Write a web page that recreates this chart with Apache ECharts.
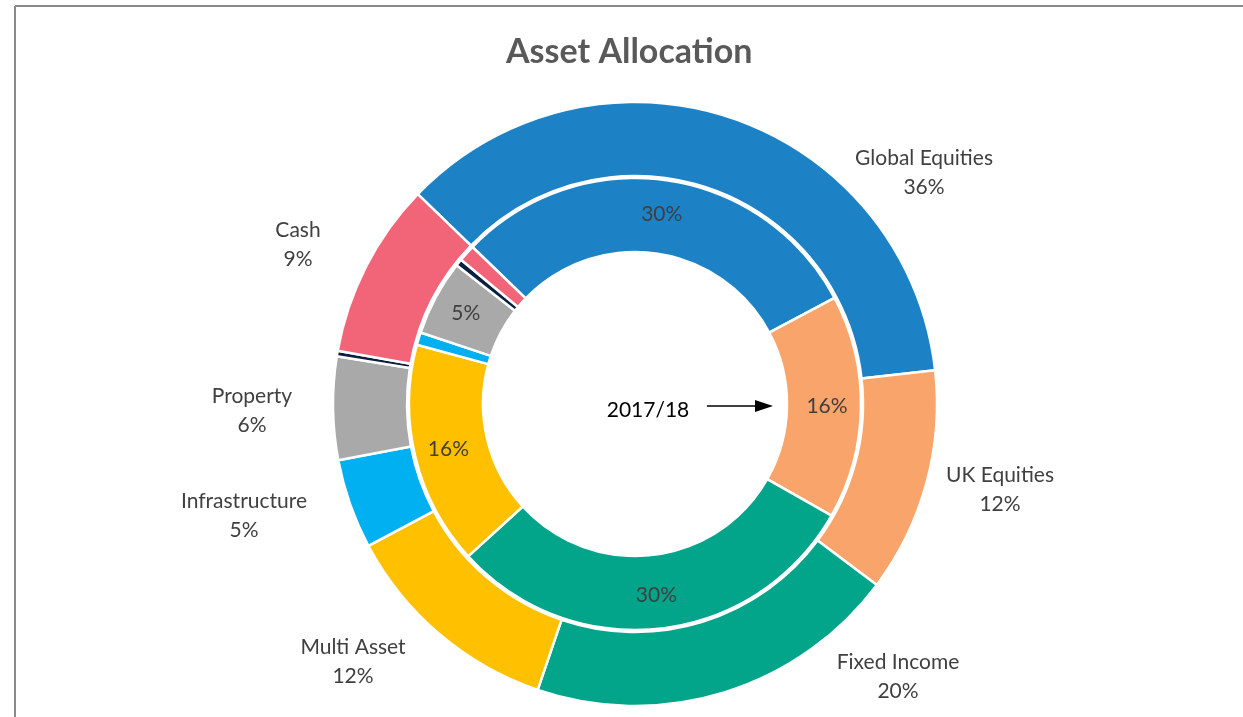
<!DOCTYPE html>
<html>
<head>
<meta charset="utf-8">
<title>Asset Allocation</title>
<script src="https://cdn.jsdelivr.net/npm/echarts@6/dist/echarts.min.js"></script>
<style>
  html, body { margin: 0; padding: 0; background: #fff; }
  #chart { width: 1243px; height: 717px; }
</style>
</head>
<body>
<div id="chart"></div>
<script>
  // asset classes, clockwise from the top-left
  const categories = ['Global Equities', 'UK Equities', 'Fixed Income', 'Multi Asset', 'Infrastructure', 'Property', 'Other', 'Cash'];
  // outer ring: target allocation (%)
  const outerValues = [36, 12, 20, 12, 4.8, 5.5, 0.3, 9.4];
  // inner ring: 2017/18 allocation (%)
  const innerValues = [30, 16, 30, 16, 0.9, 5.4, 0.5, 1.2];
  const colors = ['#1c82c5', '#f9a46a', '#02a48a', '#ffc000', '#00b0f0', '#a9a9a9', '#0b1f41', '#f26478'];
  const periodLabel = '2017/18';

  // where Excel put the outer labels (label centres)
  const outerLabelPos = [[924, 173], [1000, 490], [898, 677], [353, 662], [244, 516], [252, 411], null, [298, 245]];

  const chart = echarts.init(document.getElementById('chart'));
  const font = 'Lato, "Open Sans", sans-serif';

  const outerData = categories.map((name, i) => ({
    name: name,
    value: outerValues[i],
    itemStyle: { color: colors[i] },
    label: { show: outerLabelPos[i] !== null }
  }));
  const innerData = categories.map((name, i) => ({
    name: name,
    value: innerValues[i],
    itemStyle: { color: colors[i] },
    label: { show: innerValues[i] >= 3 }
  }));

  const option = {
    animation: false,
    title: {
      text: 'Asset Allocation',
      left: 506,
      top: 35,
      padding: 0,
      textStyle: { fontFamily: font, fontSize: 34, fontWeight: 'bold', color: '#595959' }
    },
    graphic: [
      { type: 'line', shape: { x1: 15, y1: 6, x2: 15, y2: 717 }, style: { stroke: '#8a8a8a', lineWidth: 2 } },
      { type: 'line', shape: { x1: 15, y1: 6, x2: 1243, y2: 6 }, style: { stroke: '#8a8a8a', lineWidth: 2 } },
      {
        type: 'text', x: 648, y: 410,
        style: { text: periodLabel, fontFamily: font, fontSize: 21, fill: '#000', align: 'center', verticalAlign: 'middle' }
      },
      { type: 'line', shape: { x1: 707, y1: 406, x2: 758, y2: 406 }, style: { stroke: '#000', lineWidth: 1.5 } },
      { type: 'polygon', shape: { points: [[755, 400], [773, 406], [755, 412]] }, style: { fill: '#000' } }
    ],
    series: [
      {
        name: 'Target',
        type: 'pie',
        center: [635, 404],
        radius: [228, 302],
        startAngle: 136,
        clockwise: true,
        avoidLabelOverlap: false,
        itemStyle: { borderColor: '#fff', borderWidth: 2.5 },
        label: {
          position: 'outside',
          formatter: p => p.name + '\n' + Math.round(p.value) + '%',
          fontFamily: font,
          fontSize: 21,
          lineHeight: 29,
          color: '#404040',
          align: 'center'
        },
        labelLine: { show: false },
        labelLayout: params => {
          const pos = outerLabelPos[params.dataIndex];
          if (!pos) return {};
          return { x: pos[0], y: pos[1], align: 'center', verticalAlign: 'middle' };
        },
        emphasis: { disabled: true },
        data: outerData
      },
      {
        name: periodLabel,
        type: 'pie',
        center: [635, 404],
        radius: [152, 226],
        startAngle: 136,
        clockwise: true,
        avoidLabelOverlap: false,
        itemStyle: { borderColor: '#fff', borderWidth: 2.5 },
        label: {
          position: 'inside',
          formatter: p => Math.round(p.value) + '%',
          fontFamily: font,
          fontSize: 21,
          color: '#404040'
        },
        labelLine: { show: false },
        emphasis: { disabled: true },
        data: innerData
      }
    ]
  };

  chart.setOption(option);
</script>
</body>
</html>
